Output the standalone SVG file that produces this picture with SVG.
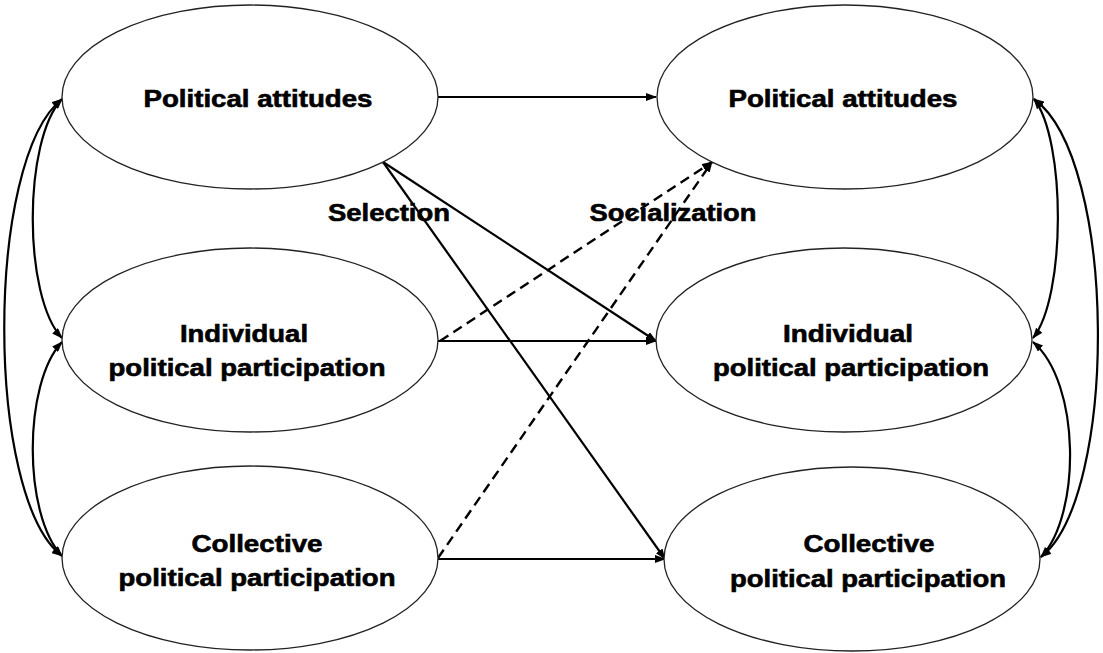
<svg xmlns="http://www.w3.org/2000/svg" width="1103" height="653" viewBox="0 0 1103 653">
<style>
.node ellipse{fill:#fff;stroke:#222;stroke-width:1.3}
.lbl{font-family:"Liberation Sans",Arial,sans-serif;font-weight:bold;font-size:23px;fill:#000;stroke:#000;stroke-width:0.6;text-anchor:middle}
.c{fill:none;stroke:#000;stroke-width:2.2}
.d{fill:none;stroke:#000;stroke-width:2.4;stroke-dasharray:10 6}
</style>
<defs>
<marker id="ah" markerUnits="userSpaceOnUse" markerWidth="11" markerHeight="8" refX="10" refY="4" orient="auto-start-reverse">
<path d="M0,0 L11,4 L0,8 z" fill="#000"/>
</marker>
</defs>
<rect width="1103" height="653" fill="#fff"/>
<g id="connectors">
<path class="c" d="M62,99 C-15,160 -15,497 62,556" marker-start="url(#ah)" marker-end="url(#ah)"/>
<path class="c" d="M62,99 C23,140 23,297 62,338" marker-start="url(#ah)" marker-end="url(#ah)"/>
<path class="c" d="M62,342 C23,383 23,515 62,556" marker-start="url(#ah)" marker-end="url(#ah)"/>
<path class="c" d="M1034,99 C1118,160 1118,497 1041,557" marker-start="url(#ah)" marker-end="url(#ah)"/>
<path class="c" d="M1034,99 C1066,140 1066,297 1033,338" marker-start="url(#ah)" marker-end="url(#ah)"/>
<path class="c" d="M1033,342 C1081,383 1081,515 1041,557" marker-start="url(#ah)" marker-end="url(#ah)"/>
<line class="c" x1="438" y1="97" x2="656" y2="97" marker-end="url(#ah)"/>
<line class="c" x1="438" y1="341" x2="656" y2="341" marker-end="url(#ah)"/>
<line class="c" x1="438" y1="559" x2="665" y2="559" marker-end="url(#ah)"/>
<line class="c" x1="383" y1="162" x2="656" y2="341" marker-end="url(#ah)"/>
<line class="c" x1="383" y1="162" x2="665" y2="559" marker-end="url(#ah)"/>
<line class="d" x1="440" y1="341" x2="712" y2="162" marker-end="url(#ah)"/>
<line class="d" x1="438" y1="558" x2="712" y2="162" marker-end="url(#ah)"/>
</g>
<g id="n-lt" class="node"><ellipse cx="250" cy="97" rx="188" ry="92"/><text class="lbl" x="258" y="107" textLength="229" lengthAdjust="spacingAndGlyphs">Political attitudes</text></g>
<g id="n-lm" class="node"><ellipse cx="250" cy="340" rx="188" ry="92"/><text class="lbl" x="244" y="342" textLength="128" lengthAdjust="spacingAndGlyphs">Individual</text><text class="lbl" x="247" y="376" textLength="277" lengthAdjust="spacingAndGlyphs">political participation</text></g>
<g id="n-lb" class="node"><ellipse cx="250" cy="558" rx="188" ry="92"/><text class="lbl" x="257" y="552" textLength="131" lengthAdjust="spacingAndGlyphs">Collective</text><text class="lbl" x="257" y="586" textLength="277" lengthAdjust="spacingAndGlyphs">political participation</text></g>
<g id="n-rt" class="node"><ellipse cx="845" cy="97" rx="188" ry="92"/><text class="lbl" x="843" y="107" textLength="229" lengthAdjust="spacingAndGlyphs">Political attitudes</text></g>
<g id="n-rm" class="node"><ellipse cx="844" cy="340" rx="188" ry="92"/><text class="lbl" x="848" y="342" textLength="130" lengthAdjust="spacingAndGlyphs">Individual</text><text class="lbl" x="851" y="376" textLength="276" lengthAdjust="spacingAndGlyphs">political participation</text></g>
<g id="n-rb" class="node"><ellipse cx="852" cy="559" rx="188" ry="92"/><text class="lbl" x="869" y="552" textLength="131" lengthAdjust="spacingAndGlyphs">Collective</text><text class="lbl" x="868" y="587" textLength="276" lengthAdjust="spacingAndGlyphs">political participation</text></g>
<g id="labels">
<text class="lbl" x="389" y="221" textLength="122" lengthAdjust="spacingAndGlyphs">Selection</text>
<text class="lbl" x="673" y="221" textLength="167" lengthAdjust="spacingAndGlyphs">Socialization</text>
</g>
</svg>
